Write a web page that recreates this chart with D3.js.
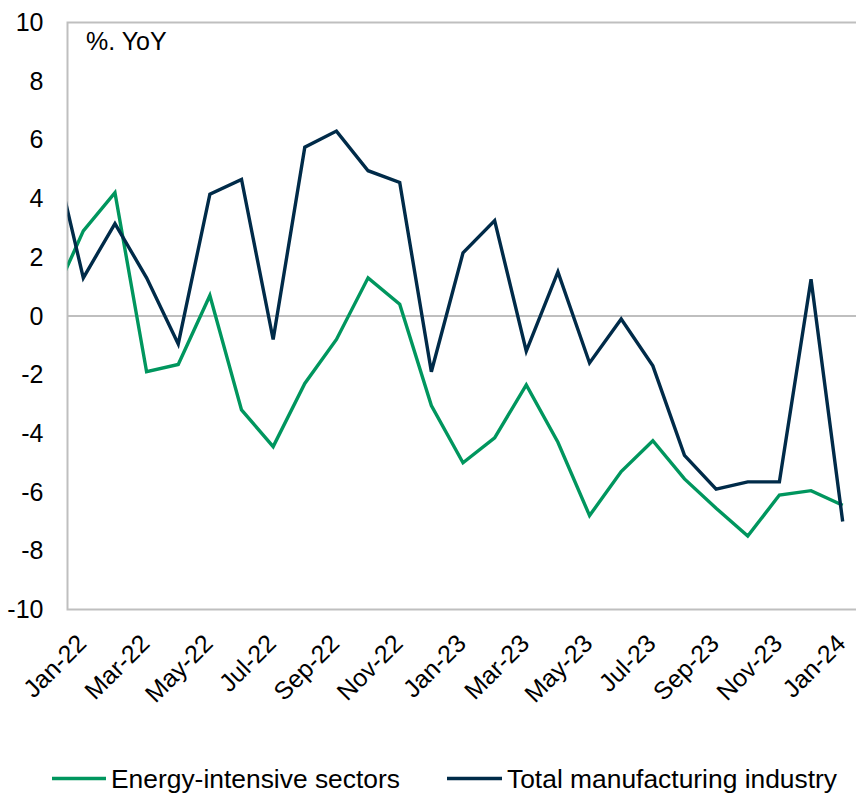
<!DOCTYPE html>
<html>
<head>
<meta charset="utf-8">
<script src="https://cdn.jsdelivr.net/npm/d3@7"></script>
<style>
  html, body { margin: 0; padding: 0; background: #fff; }
  svg { display: block; font-family: "Liberation Sans", Arial, sans-serif; }
</style>
</head>
<body>
<svg id="chart" width="856" height="793"></svg>
<script>
// Monthly year-on-year change in production, %
const months = ["Dec-21","Jan-22","Feb-22","Mar-22","Apr-22","May-22","Jun-22","Jul-22","Aug-22","Sep-22","Oct-22","Nov-22","Dec-22",
                "Jan-23","Feb-23","Mar-23","Apr-23","May-23","Jun-23","Jul-23","Aug-23","Sep-23","Oct-23","Nov-23","Dec-23","Jan-24"];
const energyIntensive = [0.5, 2.9, 4.2, -1.9, -1.65, 0.7, -3.2, -4.45, -2.3, -0.8, 1.3, 0.4, -3.05,
                         -5.0, -4.15, -2.35, -4.3, -6.8, -5.3, -4.25, -5.55, -6.55, -7.5, -6.1, -5.95, -6.45];
const totalManufacturing = [5.9, 1.3, 3.15, 1.3, -0.95, 4.15, 4.65, -0.8, 5.75, 6.3, 4.95, 4.55, -1.9,
                            2.15, 3.25, -1.2, 1.5, -1.6, -0.1, -1.7, -4.75, -5.9, -5.65, -5.65, 1.25, -7.0];
const tickLabels = ["Jan-22","Mar-22","May-22","Jul-22","Sep-22","Nov-22","Jan-23","Mar-23","May-23","Jul-23","Sep-23","Nov-23","Jan-24"];
const yTicks = [10, 8, 6, 4, 2, 0, -2, -4, -6, -8, -10];
const seriesNames = ["Energy-intensive sectors", "Total manufacturing industry"];
const seriesColors = ["#00965E", "#002B49"];

const svg = d3.select("#chart");
const plotLeft = 67.5, plotRight = 858.5, plotTop = 22.5, plotBottom = 609.5;

// Axis starts half a month before Jan-22; the Dec-21 point falls outside and is clipped
const x = d3.scaleLinear().domain([0.5, months.length - 0.5]).range([plotLeft, plotRight]);
const y = d3.scaleLinear().domain([-10, 10]).range([plotBottom, plotTop]);

svg.append("defs").append("clipPath").attr("id", "plot-clip")
  .append("rect").attr("x", plotLeft).attr("y", plotTop - 5)
  .attr("width", plotRight - plotLeft).attr("height", plotBottom - plotTop + 10);

// Plot frame and zero line
const grey = "#BFBFBF";
svg.append("rect").attr("x", plotLeft).attr("y", plotTop)
  .attr("width", plotRight - plotLeft).attr("height", plotBottom - plotTop)
  .attr("fill", "none").attr("stroke", grey).attr("stroke-width", 2);
svg.append("line").attr("x1", plotLeft).attr("x2", plotRight).attr("y1", y(0)).attr("y2", y(0))
  .attr("stroke", grey).attr("stroke-width", 2);

// Y axis labels (plain hyphen for negatives)
const yAxis = d3.axisLeft(y).tickValues(yTicks).tickSize(0).tickPadding(24).tickFormat(d => String(d));
const yg = svg.append("g").attr("transform", `translate(${plotLeft},0)`).call(yAxis);
yg.select(".domain").remove();
yg.selectAll("text").attr("font-size", 25).attr("fill", "#000")
  .attr("font-family", "Liberation Sans, Arial, sans-serif");

// X axis labels, every other month, rotated
const tickIdx = tickLabels.map(l => months.indexOf(l));
svg.append("g").selectAll("text").data(tickIdx).join("text")
  .attr("transform", d => `translate(${x(d) + 4.5},645) rotate(-45)`)
  .attr("text-anchor", "end")
  .attr("font-size", 25)
  .attr("fill", "#000")
  .text(d => months[d]);

// Series lines
const line = d3.line().x((d, i) => x(i)).y(d => y(d));
const plot = svg.append("g").attr("clip-path", "url(#plot-clip)");
[energyIntensive, totalManufacturing].forEach((vals, k) => {
  plot.append("path").datum(vals)
    .attr("d", line)
    .attr("fill", "none")
    .attr("stroke", seriesColors[k])
    .attr("stroke-width", 3.4)
    .attr("stroke-linejoin", "miter");
});

// Unit label
svg.append("text").attr("x", 86).attr("y", 50).attr("font-size", 25).attr("fill", "#000").text("%. YoY");

// Legend
const legendItems = [{x: 52, w: 54}, {x: 447, w: 55}];
legendItems.forEach((it, k) => {
  svg.append("line").attr("x1", it.x).attr("x2", it.x + it.w).attr("y1", 778.5).attr("y2", 778.5)
    .attr("stroke", seriesColors[k]).attr("stroke-width", 3.5);
  svg.append("text").attr("x", it.x + it.w + 5).attr("y", 787.5)
    .attr("font-size", 26.4).attr("fill", "#000").text(seriesNames[k]);
});
</script>
</body>
</html>
